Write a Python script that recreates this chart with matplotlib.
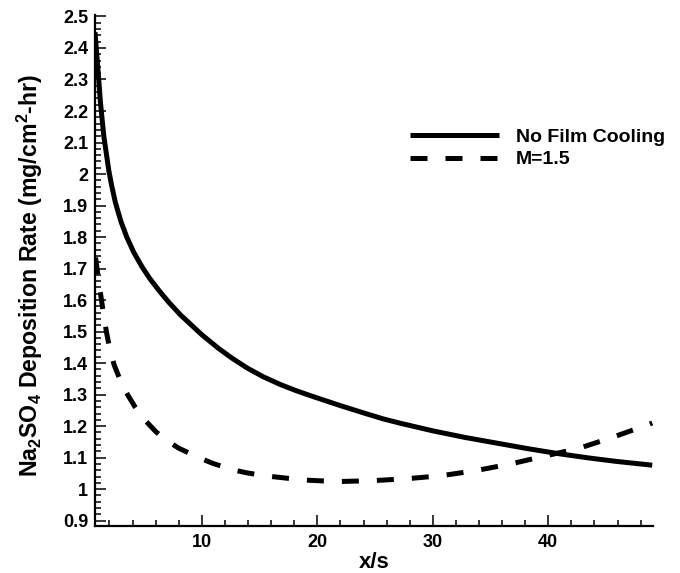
import numpy as np
import matplotlib
matplotlib.use('Agg')
import matplotlib.pyplot as plt
from matplotlib.ticker import MultipleLocator

plt.rcParams['font.family'] = ['Liberation Sans', 'DejaVu Sans']
plt.rcParams['mathtext.fontset'] = 'custom'
plt.rcParams['mathtext.rm'] = 'Liberation Sans:bold'
plt.rcParams['mathtext.bf'] = 'Liberation Sans:bold'

# deposition rate along the surface, no film cooling
x_nofilm = [0.75, 0.88, 1.02, 1.22, 1.51, 1.95, 2.2, 2.52, 3.0, 3.5, 4.1, 4.83, 5.5,
            6.3, 7.14, 8.15, 10.0, 11.47, 12.6, 13.9, 15.3, 16.8, 18.2, 19.7,
            22.0, 24.0, 25.7, 27.2, 30.0, 32.8, 35.7, 38.3, 41.0, 43.5, 45.9, 49.0]
y_nofilm = [2.45, 2.39, 2.325, 2.228, 2.121, 2.01, 1.962, 1.909, 1.849, 1.80,
            1.752, 1.705, 1.668, 1.63, 1.593, 1.553, 1.49, 1.446, 1.416, 1.385,
            1.357, 1.332, 1.312, 1.293, 1.265, 1.242, 1.223, 1.209, 1.185, 1.164,
            1.145, 1.128, 1.112, 1.099, 1.088, 1.076]

# deposition rate with film cooling, blowing ratio M=1.5
x_m15 = [0.8, 1.0, 1.25, 1.5, 1.75, 2.0, 2.4, 3.0, 3.6, 4.2, 5.0, 6.0, 6.85, 8.0,
         9.8, 11.0, 12.85, 14.0, 15.8, 18.8, 21.7, 24.8, 27.75, 30.8, 33.75,
         36.75, 39.7, 42.7, 45.6, 48.6, 49.0]
y_m15 = [1.735, 1.68, 1.615, 1.553, 1.497, 1.45, 1.395, 1.34, 1.298, 1.262, 1.222,
         1.183, 1.157, 1.13, 1.099, 1.081, 1.06, 1.051, 1.041, 1.029, 1.024, 1.027,
         1.033, 1.043, 1.059, 1.08, 1.105, 1.13, 1.165, 1.204, 1.21]

fig = plt.figure(figsize=(6.8, 5.73), dpi=100)
ax = fig.add_axes([0.1397, 0.082, 0.8203, 0.892])

ax.plot(x_nofilm, y_nofilm, color='black', lw=3.6, solid_capstyle='butt',
        solid_joinstyle='round', label='No Film Cooling')
ax.plot(x_m15, y_m15, color='black', lw=3.6, dashes=(3.4, 3.6),
        dash_capstyle='butt', label='M=1.5')

ax.set_xlim(0.75, 49.05)
ax.set_ylim(0.883, 2.505)

ax.xaxis.set_major_locator(MultipleLocator(10))
ax.xaxis.set_minor_locator(MultipleLocator(2))
ax.yaxis.set_minor_locator(MultipleLocator(0.02))
ax.set_yticks(np.arange(0.9, 2.501, 0.1))
ax.set_yticklabels(['0.9', '1', '1.1', '1.2', '1.3', '1.4', '1.5', '1.6', '1.7',
                    '1.8', '1.9', '2', '2.1', '2.2', '2.3', '2.4', '2.5'])

ax.spines['top'].set_visible(False)
ax.spines['right'].set_visible(False)
ax.spines['left'].set_linewidth(1.6)
ax.spines['bottom'].set_linewidth(1.6)
ax.tick_params(which='both', direction='in', width=1.1, labelsize=13, colors='black')
ax.tick_params(which='major', length=8)
ax.tick_params(which='minor', length=4)
ax.tick_params(axis='x', pad=6)
ax.tick_params(axis='y', pad=5)
for lbl in ax.get_xticklabels() + ax.get_yticklabels():
    lbl.set_fontweight('bold')

ax.set_xlabel('x/s', fontsize=16, fontweight='bold', labelpad=0.8)
ax.set_ylabel(r'Na$_2$SO$_4$ Deposition Rate (mg/cm$^2$-hr)', fontsize=16.7,
              fontweight='bold')
ax.yaxis.set_label_coords(-0.09, 0.491)

leg = ax.legend(loc='upper left', bbox_to_anchor=(0.547, 0.797), frameon=False,
                borderpad=0, handlelength=4.6, handletextpad=0.85, labelspacing=0.25,
                prop={'weight': 'bold', 'size': 14})

fig.savefig('out.png', dpi=100)
